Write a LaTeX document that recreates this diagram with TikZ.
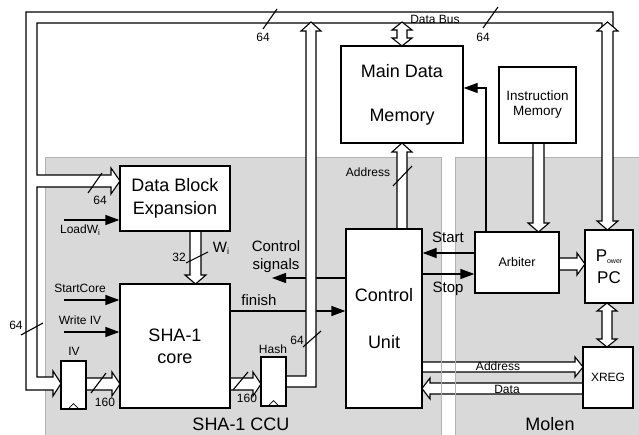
\documentclass[tikz,border=0pt]{standalone}
\usepackage{fontspec}
\setmainfont{Liberation Sans}
\usetikzlibrary{arrows.meta,calc}
\begin{document}
\begin{tikzpicture}[x=1pt,y=-1pt,
  box/.style={draw,fill=white,line width=1.3pt,inner sep=0pt,align=center},
  bus/.style={draw,fill=white,line width=1.1pt,line join=miter},
  sig/.style={line width=1.3pt,-{Triangle[length=14pt,width=10pt]}},
  busmark/.style={line width=1.1pt},
  region/.style={fill=black!15,draw=black!30,line width=0.8pt},
  lbl/.style={inner sep=0pt,font=\fontsize{12}{14}\selectfont},
  big/.style={inner sep=0pt,font=\fontsize{18}{22}\selectfont},
  mid/.style={inner sep=0pt,align=center,font=\fontsize{15}{18}\selectfont},
]
\useasboundingbox (0,0) rectangle (639,435);
\fill[white] (0,0) rectangle (639,435);

% regions
\path[region] (45,157) rectangle (441,440);
\path[region] (455,157) rectangle (645,440);

% nodes (positions only, drawn later)
\path node[box,minimum width=110pt,minimum height=124pt,font=\fontsize{18}{22}\selectfont] (core) at (175,346) {SHA-1\\core};
\path node[box,minimum width=76pt,minimum height=179pt,font=\fontsize{18}{47}\selectfont] (cu) at (384,318.5) {Control\\Unit};

% signals hidden by buses
\draw[sig] ([yshift=35pt]core.east) -- ([yshift=35pt]core.east -| cu.west);
\coordinate (csend) at (272,278);
\draw[sig] (csend -| cu.west) -- (csend);

% main data bus
\path[bus] (602,221) -- (602,23) -- (37,23) -- (37,175) -- (111,175) -- (111,168) -- (120,181) -- (111,194) -- (111,187) -- (37,187) -- (37,377) -- (53,377) -- (53,371) -- (61,383.5) -- (53,396) -- (53,390) -- (26,390) -- (26,12) -- (613,12) -- (613,221) -- (618,221) -- (607.5,230) -- (597,221) -- cycle;
\path[bus] (602,31) -- (597,31) -- (607.5,22) -- (618,31) -- (613,31);
% hash bus
\path[bus] (286,376) -- (306,376) -- (306,31) -- (301,31) -- (311,22) -- (321,31) -- (316,31) -- (316,387) -- (286,387);
% main memory <-> data bus
\path[bus] (397,30) -- (392,30) -- (402,22) -- (412,30) -- (407,30) -- (407,38) -- (412,38) -- (402,46) -- (392,38) -- (397,38) -- cycle;
% address CU -> memory
\path[bus] (397,229) -- (397,152) -- (392,152) -- (402,143) -- (412,152) -- (407,152) -- (407,229);
% instruction memory -> arbiter
\path[bus] (533,143) -- (533,223) -- (528,223) -- (538.5,232) -- (549,223) -- (544,223) -- (544,143);
% Wi
\path[bus] (190,231) -- (190,275) -- (185,275) -- (195.5,284) -- (206,275) -- (201,275) -- (201,231);
% arbiter -> PPC
\path[bus] (559,258) -- (577,258) -- (577,253) -- (585,264) -- (577,275) -- (577,270) -- (559,270);
% PPC <-> XREG
\path[bus] (602,311) -- (597,311) -- (607,303) -- (617,311) -- (612,311) -- (612,339) -- (617,339) -- (607,347) -- (597,339) -- (602,339) -- cycle;
% IV -> core, core -> hash
\path[bus] (86,378) -- (112,378) -- (112,372) -- (120,384) -- (112,396) -- (112,390) -- (86,390);
\path[bus] (230,378) -- (253,378) -- (253,372) -- (261,384) -- (253,396) -- (253,390) -- (230,390);
% CU <-> XREG
\path[bus] (422,362) -- (575,362) -- (575,357) -- (583,367) -- (575,377) -- (575,372) -- (422,372);
\path[bus] (583,383) -- (430,383) -- (430,378) -- (422,388.5) -- (430,399) -- (430,394) -- (583,394);

% boxes
\node[box,minimum width=122pt,minimum height=97pt,font=\fontsize{18}{44}\selectfont] (mdm) at (402,94.5) {Main Data\\Memory};
\node[box,minimum width=77pt,minimum height=76pt,font=\fontsize{13.5}{15}\selectfont] (im) at (537.5,105) {Instruction\\Memory};
\node[box,minimum width=110pt,minimum height=65pt,font=\fontsize{18}{23}\selectfont] (dbe) at (175,198.5) {Data Block\\Expansion};
\node[box,minimum width=110pt,minimum height=124pt,font=\fontsize{18}{22}\selectfont] (core2) at (175,346) {SHA-1\\core};
\node[box,minimum width=76pt,minimum height=179pt,font=\fontsize{18}{47}\selectfont] (cu2) at (384,318.5) {Control\\Unit};
\node[box,minimum width=84pt,minimum height=61pt,font=\fontsize{12.5}{15}\selectfont] (arb) at (517,262.5) {Arbiter};
\node[box,minimum width=48pt,minimum height=73pt,font=\fontsize{17}{22}\selectfont] (ppc) at (609,266.5) {P\raisebox{-2pt}{\fontsize{7}{8}\selectfont ower}\\PC};
\node[box,minimum width=50pt,minimum height=61pt,font=\fontsize{12}{14}\selectfont] (xreg) at (608,377.5) {XREG};
\node[box,minimum width=25pt,minimum height=48pt] (iv) at (73.5,385) {};
\node[box,minimum width=25pt,minimum height=49pt] (hash) at (273.5,381.5) {};
\draw[line width=0.8pt] ([xshift=-6pt]iv.south) -- ([yshift=6pt]iv.south) -- ([xshift=6pt]iv.south);
\draw[line width=0.8pt] ([xshift=-6pt]hash.south) -- ([yshift=6pt]hash.south) -- ([xshift=6pt]hash.south);

% region borders through the gap
\draw[black!30,line width=0.8pt] (441,157) -- (441,435) (455,157) -- (455,435);

% control signals
\draw[sig] ([xshift=-31pt]arb.north) |- ([yshift=6.5pt]mdm.east);
\draw[sig] ([yshift=9.5pt]arb.west) -- ([yshift=9.5pt]arb.west -| cu.east);
\draw[sig] ([yshift=-11.5pt]arb.west -| cu.east) -- ([yshift=-11.5pt]arb.west);
\coordinate (loadw) at (64,220);
\coordinate (stc) at (64,300);
\coordinate (wiv) at (64,332);
\draw[sig] (loadw) -- (loadw -| dbe.west);
\draw[sig] (stc) -- (stc -| core.west);
\draw[sig] (wiv) -- (wiv -| core.west);

% bus width marks
\draw[busmark] (263,29) -- (277,9);
\draw[busmark] (483,28) -- (498,7);
\draw[busmark] (88,193) -- (102,173);
\draw[busmark] (21,335) -- (43,323);
\draw[busmark] (91,393) -- (106,373);
\draw[busmark] (233,390) -- (248,372);
\draw[busmark] (303,347) -- (321,331);
\draw[busmark] (393,186) -- (412,166);
\draw[busmark] (186,263) -- (208,252);

% labels
\node[lbl] (l64a) at (263,37) {64};
\node[lbl] (l64b) at (483,37) {64};
\node[lbl] (l64c) at (100,200) {64};
\node[lbl] (l64d) at (16,325) {64};
\node[lbl] (l64e) at (297,340) {64};
\node[lbl] (l160a) at (105,402) {160};
\node[lbl] (l160b) at (247,398) {160};
\node[lbl] (l32) at (179,257) {32};
\node[lbl] (ldb) at (435,19) {Data Bus};
\node[lbl] (laddr) at (368,172) {Address};
\node[lbl] (laddr2) at (498,366) {Address};
\node[lbl] (ldata) at (507,389) {Data};
\node[lbl] (liv) at (74,351) {IV};
\node[lbl] (lhash) at (273,349) {Hash};
\node[lbl] (lload) at (80,230) {LoadW\raisebox{-2pt}{\fontsize{8}{9}\selectfont i}};
\node[lbl] (lstc) at (80,288) {StartCore};
\node[lbl] (lwiv) at (80,320) {Write IV};
\node[mid] (lwi) at (221,248) {W\raisebox{-2pt}{\fontsize{9}{10}\selectfont i}};
\node[mid] (lcs) at (276,257) {Control\\signals};
\node[mid] (lfin) at (259,300) {finish};
\node[mid] (lstart) at (448,237) {Start};
\node[mid] (lstop) at (448,289) {Stop};
\node[big] (lccu) at (241,424) {SHA-1 CCU};
\node[big] (lmolen) at (550,424) {Molen};
\end{tikzpicture}
\end{document}
